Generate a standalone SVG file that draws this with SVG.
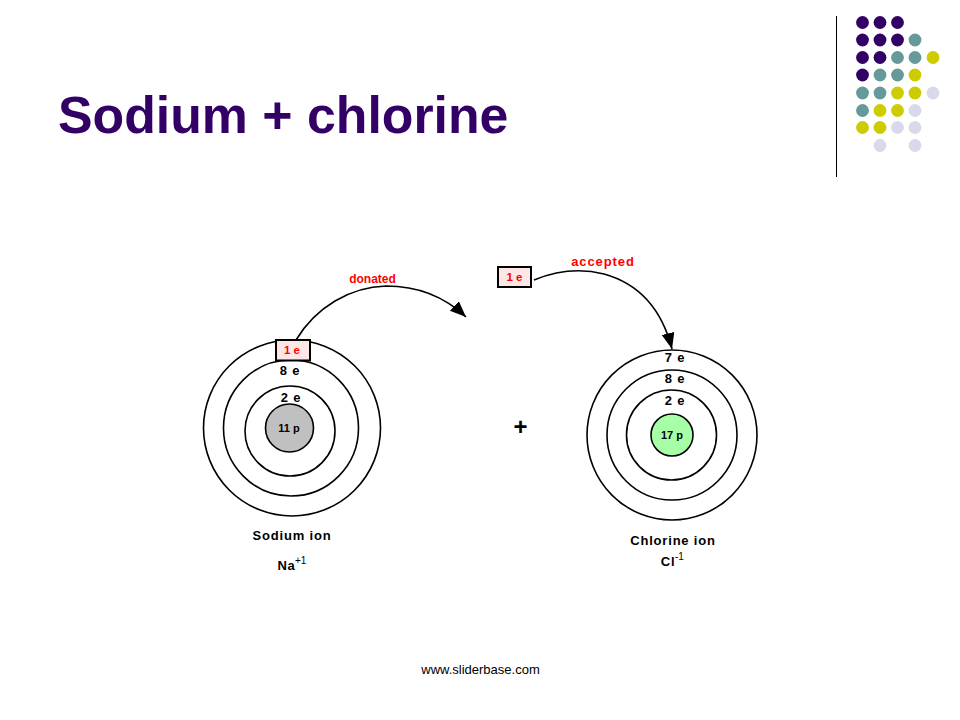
<svg xmlns="http://www.w3.org/2000/svg" width="960" height="720" viewBox="0 0 960 720">
<style>
text{font-family:"Liberation Sans",Arial,sans-serif;fill:#000}
.orb{fill:none;stroke:#000;stroke-width:1.6}
.nuc{stroke:#000;stroke-width:1.6}
.lab{font-size:13px;font-weight:bold;text-anchor:middle;letter-spacing:.8px}
.pro{font-size:11px;font-weight:bold;text-anchor:middle}
.red{fill:#f00;font-weight:bold;text-anchor:middle}
.box{fill:#ffe6e6;stroke:#000;stroke-width:2}
.conn{fill:none;stroke:#000;stroke-width:1.6}
.sup{font-size:10px;font-weight:normal}
.p{fill:#330066}.t{fill:#669999}.y{fill:#cccc00}.l{fill:#d9d9ec}
</style>
<defs>
<marker id="ah" markerUnits="userSpaceOnUse" markerWidth="18" markerHeight="14" refX="16" refY="6.5" orient="auto"><path d="M0 0L16 6.5L0 13Z" fill="#000"/></marker>
</defs>
<rect width="960" height="720" fill="#fff"/>
<g id="decor">
<line x1="836.5" y1="16" x2="836.5" y2="177" stroke="#000" stroke-width="1"/>
<g>
<circle class="p" cx="862.5" cy="22.5" r="6.4"/><circle class="p" cx="880" cy="22.5" r="6.4"/><circle class="p" cx="897.5" cy="22.5" r="6.4"/>
<circle class="p" cx="862.5" cy="40" r="6.4"/><circle class="p" cx="880" cy="40" r="6.4"/><circle class="p" cx="897.5" cy="40" r="6.4"/><circle class="t" cx="915" cy="40" r="6.4"/>
<circle class="p" cx="862.5" cy="57.5" r="6.4"/><circle class="p" cx="880" cy="57.5" r="6.4"/><circle class="t" cx="897.5" cy="57.5" r="6.4"/><circle class="t" cx="915" cy="57.5" r="6.4"/><circle class="y" cx="933" cy="57.5" r="6.4"/>
<circle class="p" cx="862.5" cy="75" r="6.4"/><circle class="t" cx="880" cy="75" r="6.4"/><circle class="t" cx="897.5" cy="75" r="6.4"/><circle class="y" cx="915" cy="75" r="6.4"/>
<circle class="t" cx="862.5" cy="93" r="6.4"/><circle class="t" cx="880" cy="93" r="6.4"/><circle class="y" cx="897.5" cy="93" r="6.4"/><circle class="y" cx="915" cy="93" r="6.4"/><circle class="l" cx="933" cy="93" r="6.4"/>
<circle class="t" cx="862.5" cy="110.5" r="6.4"/><circle class="y" cx="880" cy="110.5" r="6.4"/><circle class="y" cx="897.5" cy="110.5" r="6.4"/><circle class="l" cx="915" cy="110.5" r="6.4"/>
<circle class="y" cx="862.5" cy="127.5" r="6.4"/><circle class="y" cx="880" cy="127.5" r="6.4"/><circle class="l" cx="897.5" cy="127.5" r="6.4"/><circle class="l" cx="915" cy="127.5" r="6.4"/>
<circle class="l" cx="880" cy="145.5" r="6.4"/><circle class="l" cx="915" cy="145.5" r="6.4"/>
</g>
</g>
<text id="title" x="58" y="133" font-size="51.8" font-weight="bold" style="fill:#330066">Sodium + chlorine</text>
<g id="sodium-atom">
<ellipse class="orb" cx="292" cy="428" rx="88.5" ry="88"/>
<ellipse class="orb" cx="291" cy="428" rx="67.5" ry="68"/>
<circle class="orb" cx="290" cy="431" r="45"/>
<circle class="nuc" cx="289.5" cy="428" r="24" fill="#c0c0c0"/>
<text class="pro" x="289" y="432">11 p</text>
<text class="lab" x="290" y="375">8 e</text>
<text class="lab" x="291" y="402">2 e</text>
<text class="lab" x="292" y="540">Sodium ion</text>
<text class="lab" x="286.500" y="570">Na</text>
<text x="295" y="564" class="sup">+1</text>
</g>
<g id="chlorine-atom">
<circle class="orb" cx="672" cy="435" r="85"/>
<circle class="orb" cx="672" cy="435" r="65"/>
<circle class="orb" cx="671.5" cy="435" r="45"/>
<circle class="nuc" cx="672" cy="435" r="21" fill="#a6ffa6"/>
<text class="pro" x="672" y="439">17 p</text>
<text class="lab" x="675" y="362">7 e</text>
<text class="lab" x="675" y="383">8 e</text>
<text class="lab" x="675" y="405">2 e</text>
<text class="lab" x="673" y="545">Chlorine ion</text>
<text class="lab" x="668" y="566">Cl</text>
<text x="675" y="560" class="sup">-1</text>
</g>
<g id="connectors">
<path class="conn" marker-end="url(#ah)" d="M296 340C316 307 350 287 386 286C420 286 446 298 466 317"/>
<path class="conn" marker-end="url(#ah)" d="M534 280C556 271 580 268 604 274C640 284 662 310 672 349"/>
</g>
<g id="electron-donated">
<rect class="box" x="276" y="340" width="34" height="20.5"/>
<text class="red" x="292" y="354" font-size="11.500">1 e</text>
<text class="red" x="372.500" y="283" font-size="12">donated</text>
</g>
<g id="electron-accepted">
<rect class="box" x="498" y="267" width="33" height="20"/>
<text class="red" x="514.500" y="281" font-size="11.500">1 e</text>
<text class="red" x="603" y="266" font-size="13" style="letter-spacing:.9px">accepted</text>
</g>
<text id="plus" x="520.500" y="435" font-size="24" font-weight="bold" text-anchor="middle">+</text>
<text id="footer" x="480.500" y="674" font-size="13" text-anchor="middle">www.sliderbase.com</text>
</svg>
